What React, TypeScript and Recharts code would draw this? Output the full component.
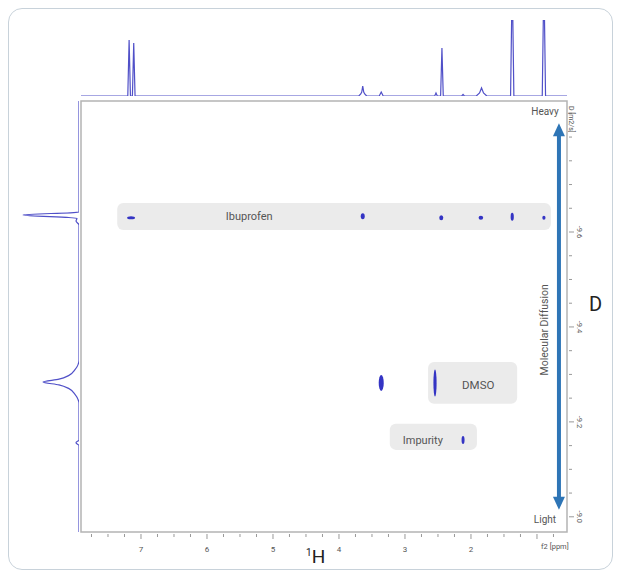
import React from 'react';
import {
  ComposedChart,
  LineChart,
  Line,
  Scatter,
  XAxis,
  YAxis,
  ReferenceArea,
  ReferenceLine,
  ReferenceDot,
} from 'recharts';

// ---------- axes ----------
const ppmDomain = [0.545, 7.909];
const ppmTicks = [0.75, 1, 1.25, 1.5, 1.75, 2, 2.25, 2.5, 2.75, 3, 3.25, 3.5, 3.75, 4, 4.25, 4.5, 4.75, 5, 5.25, 5.5, 5.75, 6, 6.25, 6.5, 6.75, 7, 7.25, 7.5, 7.75];
const ppmLabelTicks = [2, 3, 4, 5, 6, 7];

const dDomain = [-9.876, -8.968];
const dTicks = [-9.85, -9.8, -9.75, -9.7, -9.65, -9.6, -9.55, -9.5, -9.45, -9.4, -9.35, -9.3, -9.25, -9.2, -9.15, -9.1, -9.05, -9.0];
const dLabelTicks = [-9.6, -9.4, -9.2, -9.0];

// ---------- 1H projection (top) ----------
const projPpm = [7.909, 7.2, 7.18, 7.16, 7.13, 7.11, 7.09, 3.7, 3.67, 3.655, 3.64, 3.625, 3.61, 3.58, 3.39, 3.36, 3.33, 2.55, 2.53, 2.51, 2.46, 2.44, 2.42, 2.14, 2.12, 2.1, 1.92, 1.87, 1.84, 1.81, 1.76, 1.4, 1.375, 1.35, 0.92, 0.895, 0.87, 0.545];
const projInt = [0, 0, 56, 0, 0, 53, 0, 0, 2, 4, 10, 4, 2, 0, 0, 4, 0, 0, 3, 0, 0, 48, 0, 0, 1.5, 0, 0, 3, 8, 3, 0, 0, 120, 0, 0, 120, 0, 0];

// ---------- diffusion projection (left) ----------
const diffD = [-9.876, -9.642, -9.636, -9.629, -9.623, -9.615, -9.33, -9.31, -9.298, -9.29, -9.284, -9.278, -9.27, -9.258, -9.238, -9.162, -9.156, -9.15, -8.968];
const diffInt = [0, 0, 56, 2, 3, 0, 0, 4, 10, 20, 36, 20, 10, 4, 0, 0, 3, 0, 0];

// ---------- 2D cross peaks ----------
const spotPpm = [7.15, 3.64, 2.45, 1.85, 1.375, 0.895, 3.36, 2.545, 2.12];
const spotD = [-9.63, -9.633, -9.63, -9.63, -9.632, -9.63, -9.282, -9.282, -9.162];
const spotSize = [[4, 1.6], [2, 3], [2, 2.5], [2.3, 2], [1.6, 4], [1.6, 2], [2.5, 8], [1.6, 13.5], [1.5, 4]];

// ---------- compound annotation boxes ----------
const boxNames = ['Ibuprofen', 'DMSO', 'Impurity'];
const boxPpmFrom = [7.36, 2.65, 3.23];
const boxPpmTo = [0.79, 1.3, 1.91];
const boxDFrom = [-9.661, -9.326, -9.196];
const boxDTo = [-9.604, -9.238, -9.141];
const boxLabelPpm = [5.36, 1.89, 2.73];
const boxLabelD = [-9.632, -9.278, -9.16];

const topData = projPpm.map((p, i) => ({ ppm: p, int: projInt[i] }));
const leftData = diffD.map((d, i) => ({ d, int: diffInt[i] }));
const spots = spotPpm.map((p, i) => ({ ppm: p, d: spotD[i] }));

const FONT = '"Liberation Sans Narrow", Roboto, "Liberation Sans", sans-serif';
const SPEC = '#5050c8';
const SPOT = '#3434c4';
const ARROW = '#2e75b6';

const near = (a: number, b: number) => Math.abs(a - b) < 1e-6;

const PpmTick = (props: any) => {
  const { x, y, payload } = props;
  const v = payload.value;
  const major = Number.isInteger(v);
  return (
    <g>
      <line x1={x} x2={x} y1={y} y2={y + (major ? 5 : 3)} stroke="#999" strokeWidth={1} />
      {ppmLabelTicks.includes(v) && (
        <text x={x} y={y + 18} textAnchor="middle" fontSize={8} fill="#555" fontFamily={FONT}>
          {v}
        </text>
      )}
    </g>
  );
};

const DTick = (props: any) => {
  const { x, y, payload } = props;
  const v = payload.value;
  const major = dLabelTicks.some((t) => near(t, v));
  return (
    <g>
      <line x1={x} x2={x + (major ? 5 : 3)} y1={y} y2={y} stroke="#999" strokeWidth={1} />
      {major && (
        <text
          x={x + 10}
          y={y}
          transform={`rotate(90 ${x + 10} ${y})`}
          textAnchor="middle"
          dominantBaseline="central"
          fontSize={7.5}
          fill="#555"
          fontFamily={FONT}
        >
          {v.toFixed(1)}
        </text>
      )}
    </g>
  );
};

const SpotShape = (props: any) => {
  const { cx, cy, payload } = props;
  const i = spotPpm.findIndex((p, k) => p === payload.ppm && spotD[k] === payload.d);
  const s = spotSize[i] || [2, 2];
  return <ellipse cx={cx} cy={cy} rx={s[0]} ry={s[1]} fill={SPOT} />;
};

const ArrowShape = (props: any) => {
  const { x1, y1, x2, y2 } = props;
  const top = Math.min(y1, y2);
  const bot = Math.max(y1, y2);
  const x = (x1 + x2) / 2;
  return (
    <g>
      <line x1={x} x2={x} y1={top + 10} y2={bot - 10} stroke={ARROW} strokeWidth={4} />
      <polygon points={`${x},${top} ${x - 6},${top + 13} ${x + 6},${top + 13}`} fill={ARROW} />
      <polygon points={`${x},${bot} ${x - 6},${bot - 13} ${x + 6},${bot - 13}`} fill={ARROW} />
    </g>
  );
};

const textDot = (label: string, size: number, anchor: string, rotate = 0) => (p: any) => (
  <text
    x={p.cx}
    y={p.cy}
    transform={rotate ? `rotate(${rotate} ${p.cx} ${p.cy})` : undefined}
    textAnchor={anchor}
    dominantBaseline="central"
    fontSize={size}
    fill="#555"
    fontFamily={FONT}
  >
    {label}
  </text>
);

export default function App() {
  return (
    <div
      style={{
        position: 'relative',
        width: 605,
        height: 562,
        boxSizing: 'border-box',
        border: '1.5px solid #c8d2da',
        borderRadius: 14,
        background: '#fff',
        fontFamily: FONT,
      }}
    >
      <div style={{ position: 'absolute', left: -1.5, top: -1.5 }}>
        <ComposedChart width={605} height={562} margin={{ top: 93, right: 16, bottom: 18, left: 73 }}>
          <XAxis
            type="number"
            dataKey="ppm"
            domain={ppmDomain}
            reversed
            allowDataOverflow
            ticks={ppmTicks}
            interval={0}
            tick={PpmTick}
            tickLine={false}
            axisLine={false}
            tickSize={0}
            height={20}
          />
          <YAxis
            type="number"
            dataKey="d"
            orientation="right"
            domain={dDomain}
            reversed
            allowDataOverflow
            ticks={dTicks}
            interval={0}
            tick={DTick}
            tickLine={false}
            axisLine={false}
            tickSize={0}
            width={30}
          />
          {boxNames.map((n, i) => (
            <ReferenceArea
              key={n}
              x1={boxPpmFrom[i]}
              x2={boxPpmTo[i]}
              y1={boxDFrom[i]}
              y2={boxDTo[i]}
              shape={(p: any) => (
                <rect x={p.x} y={p.y} width={p.width} height={p.height} rx={6} ry={6} fill="#ebebeb" />
              )}
            />
          ))}
          <ReferenceArea
            x1={ppmDomain[0]}
            x2={ppmDomain[1]}
            y1={dDomain[0]}
            y2={dDomain[1]}
            fill="none"
            fillOpacity={0}
            stroke="#b4b4b4"
            strokeWidth={1.5}
          />
          {boxNames.map((n, i) => (
            <ReferenceDot
              key={'l' + n}
              x={boxLabelPpm[i]}
              y={boxLabelD[i]}
              shape={textDot(n, n === 'DMSO' ? 11.5 : 11, 'middle')}
            />
          ))}
          <Scatter data={spots} shape={SpotShape} isAnimationActive={false} />
          <ReferenceLine
            segment={[
              { x: 0.667, y: -9.829 },
              { x: 0.667, y: -9.015 },
            ]}
            shape={ArrowShape}
          />
          <ReferenceDot x={0.879} y={-9.853} shape={textDot('Heavy', 10, 'middle')} />
          <ReferenceDot x={0.879} y={-8.994} shape={textDot('Light', 10, 'middle')} />
          <ReferenceDot x={0.879} y={-9.394} shape={textDot('Molecular Diffusion', 10.5, 'middle', -90)} />
        </ComposedChart>
      </div>

      <div style={{ position: 'absolute', left: -1.5, top: -1.5 }}>
        <LineChart width={605} height={90} data={topData} margin={{ top: 12, right: 46, bottom: 2, left: 73 }}>
          <XAxis type="number" dataKey="ppm" domain={ppmDomain} reversed allowDataOverflow hide />
          <YAxis type="number" domain={[0, 76]} allowDataOverflow hide />
          <Line type="linear" dataKey="int" stroke={SPEC} strokeWidth={1.2} dot={false} isAnimationActive={false} />
        </LineChart>
      </div>

      <div style={{ position: 'absolute', left: -1.5, top: -1.5 }}>
        <LineChart layout="vertical" width={72} height={562} data={leftData} margin={{ top: 93, right: 1, bottom: 38, left: 7 }}>
          <XAxis type="number" domain={[0, 64]} reversed allowDataOverflow hide />
          <YAxis type="number" dataKey="d" domain={dDomain} allowDataOverflow hide />
          <Line type="monotone" dataKey="int" stroke={SPEC} strokeWidth={1.2} dot={false} isAnimationActive={false} />
        </LineChart>
      </div>

      <div style={{ position: 'absolute', left: 532, top: 533, fontSize: 7.5, color: '#555' }}>f2 [ppm]</div>
      <div
        style={{
          position: 'absolute',
          left: 566,
          top: 97,
          fontSize: 7,
          color: '#555',
          transform: 'rotate(90deg)',
          transformOrigin: 'left top',
          whiteSpace: 'nowrap',
        }}
      >
        D [m2/s]
      </div>
      <div style={{ position: 'absolute', left: 580, top: 283, fontSize: 20, color: '#222' }}>D</div>
      <div style={{ position: 'absolute', left: 297, top: 536, fontSize: 19, color: '#222', whiteSpace: 'nowrap' }}>
        <sup style={{ fontSize: 10 }}>1</sup>H
      </div>
    </div>
  );
}
